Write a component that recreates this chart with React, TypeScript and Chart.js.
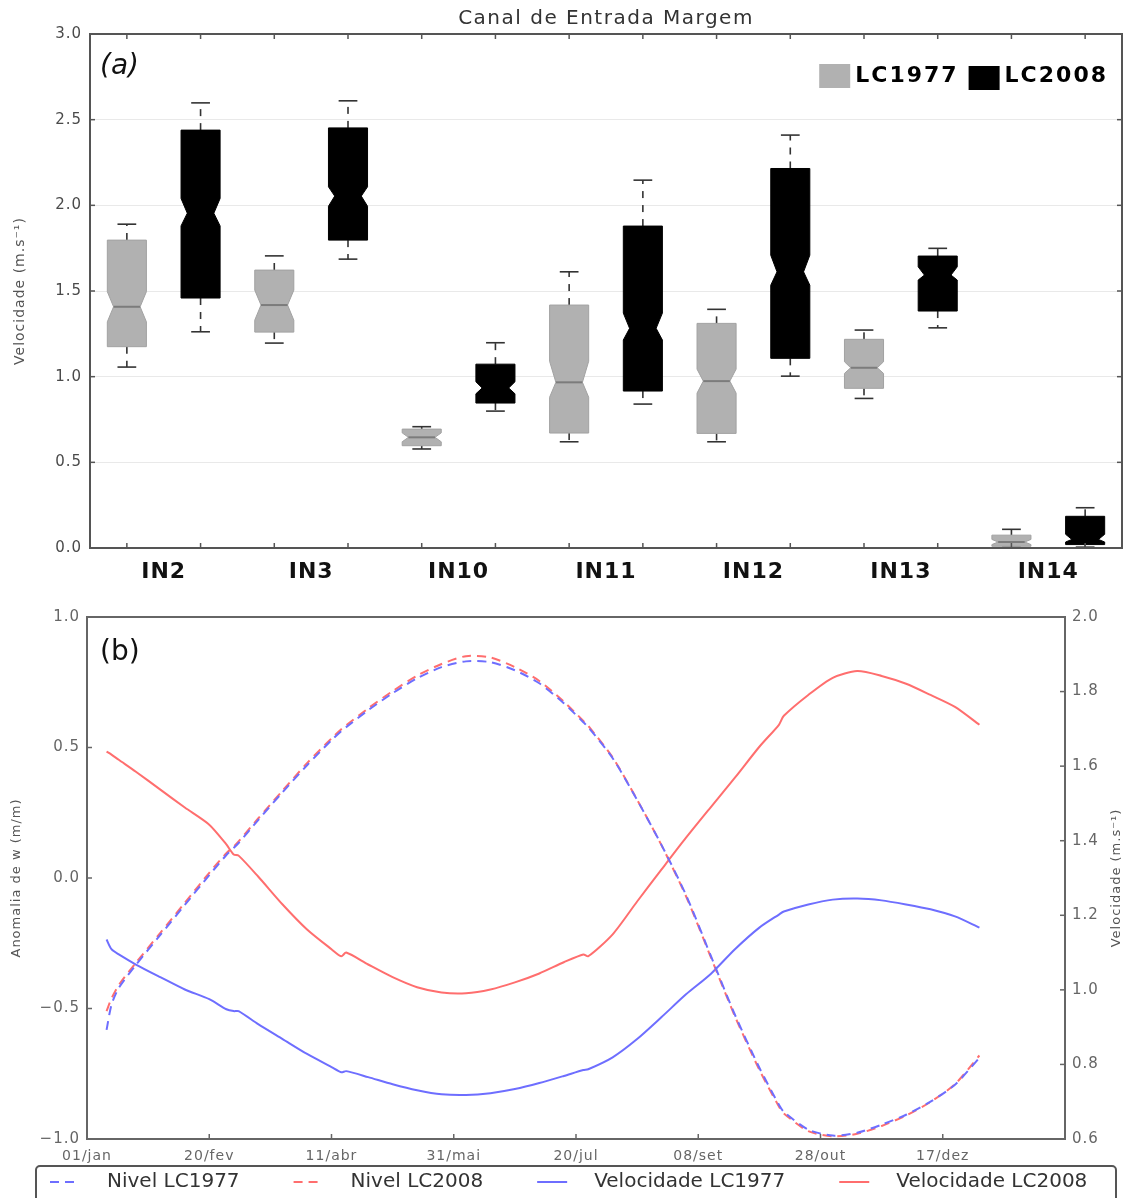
import React, { useEffect, useRef } from 'react';
import { Chart, registerables } from 'chart.js';

Chart.register(...registerables);

const FONT = "'DejaVu Sans', sans-serif";
const TITLE = 'Canal de Entrada Margem';

// ---------- Panel (a): notched box plots of velocity per station ----------
const stations = ['IN2', 'IN3', 'IN10', 'IN11', 'IN12', 'IN13', 'IN14'];
const seriesNames = ['LC1977', 'LC2008'];

const lc1977WhiskerLow = [1.056, 1.196, 0.578, 0.62, 0.62, 0.873, 0.005];
const lc1977Q1 = [1.175, 1.26, 0.597, 0.671, 0.669, 0.932, 0.01];
const lc1977NotchLow = [1.32, 1.33, 0.62, 0.88, 0.904, 1.019, 0.02];
const lc1977Median = [1.408, 1.418, 0.646, 0.967, 0.974, 1.052, 0.035];
const lc1977NotchHigh = [1.496, 1.505, 0.672, 1.09, 1.044, 1.087, 0.05];
const lc1977Q3 = [1.797, 1.622, 0.694, 1.418, 1.311, 1.218, 0.075];
const lc1977WhiskerHigh = [1.89, 1.705, 0.708, 1.612, 1.393, 1.272, 0.109];

const lc2008WhiskerLow = [1.262, 1.686, 0.799, 0.84, 1.003, 1.285, 0.005];
const lc2008Q1 = [1.459, 1.797, 0.846, 0.916, 1.107, 1.383, 0.02];
const lc2008NotchLow = [1.88, 1.995, 0.9, 1.214, 1.534, 1.564, 0.035];
const lc2008Median = [1.954, 2.054, 0.934, 1.282, 1.612, 1.593, 0.05];
const lc2008NotchHigh = [2.04, 2.108, 0.97, 1.371, 1.709, 1.641, 0.08];
const lc2008Q3 = [2.439, 2.452, 1.073, 1.879, 2.215, 1.704, 0.185];
const lc2008WhiskerHigh = [2.598, 2.61, 1.198, 2.147, 2.41, 1.749, 0.235];

const boxStats = [
  { wl: lc1977WhiskerLow, q1: lc1977Q1, nl: lc1977NotchLow, med: lc1977Median, nh: lc1977NotchHigh, q3: lc1977Q3, wh: lc1977WhiskerHigh },
  { wl: lc2008WhiskerLow, q1: lc2008Q1, nl: lc2008NotchLow, med: lc2008Median, nh: lc2008NotchHigh, q3: lc2008Q3, wh: lc2008WhiskerHigh },
];
const boxFill = ['#b1b1b1', '#000000'];
const boxEdge = ['#a2a2a2', '#000000'];
const boxMedian = ['#7c7c7c', '#000000'];

// ---------- Panel (b): daily level anomaly and velocity ----------
const dayMarks = ['01/jan', '20/fev', '11/abr', '31/mai', '20/jul', '08/set', '28/out', '17/dez'];
const days = [8, 10, 13, 20, 30, 40, 50, 57, 60, 62, 70, 80, 90, 100, 104, 106, 115, 125, 135, 145, 155, 165, 175, 185, 195, 203, 205, 215, 225, 235, 245, 255, 265, 275, 283, 285, 295, 305, 315, 325, 335, 345, 355, 365];
const nivelLC1977 = [-0.582, -0.486, -0.421, -0.333, -0.218, -0.103, 0.011, 0.088, 0.115, 0.134, 0.222, 0.329, 0.432, 0.528, 0.563, 0.578, 0.643, 0.708, 0.765, 0.808, 0.83, 0.827, 0.796, 0.746, 0.67, 0.597, 0.578, 0.459, 0.299, 0.126, -0.065, -0.295, -0.524, -0.727, -0.869, -0.896, -0.964, -0.987, -0.976, -0.945, -0.907, -0.857, -0.792, -0.689];
const nivelLC2008 = [-0.51, -0.462, -0.41, -0.325, -0.21, -0.095, 0.02, 0.095, 0.12, 0.14, 0.228, 0.335, 0.44, 0.535, 0.57, 0.585, 0.65, 0.716, 0.775, 0.82, 0.85, 0.845, 0.808, 0.755, 0.676, 0.602, 0.583, 0.462, 0.3, 0.125, -0.07, -0.3, -0.53, -0.735, -0.876, -0.902, -0.97, -0.99, -0.98, -0.95, -0.91, -0.858, -0.79, -0.68];
const velLC1977 = [1.135, 1.109, 1.095, 1.068, 1.034, 1.001, 0.975, 0.948, 0.943, 0.943, 0.908, 0.868, 0.828, 0.793, 0.779, 0.782, 0.766, 0.747, 0.731, 0.72, 0.718, 0.723, 0.734, 0.75, 0.769, 0.785, 0.787, 0.819, 0.868, 0.927, 0.988, 1.042, 1.109, 1.167, 1.202, 1.21, 1.229, 1.242, 1.245, 1.24, 1.229, 1.216, 1.197, 1.167];
const velLC2008 = [1.639, 1.631, 1.617, 1.585, 1.537, 1.489, 1.443, 1.39, 1.363, 1.36, 1.304, 1.229, 1.162, 1.109, 1.09, 1.1, 1.068, 1.034, 1.007, 0.993, 0.991, 1.001, 1.02, 1.044, 1.074, 1.095, 1.09, 1.149, 1.237, 1.323, 1.408, 1.489, 1.569, 1.652, 1.711, 1.735, 1.791, 1.837, 1.855, 1.842, 1.821, 1.791, 1.759, 1.711];

const BLUE = '#6e6eff';
const RED = '#ff6e6e';

const toPoints = (vals: number[]) => days.map((d, i) => ({ x: d, y: vals[i] }));
const fmt = (v: any) => Number(v).toFixed(1).replace('-', '\u2212');

function seg(ctx: CanvasRenderingContext2D, x1: number, y1: number, x2: number, y2: number) {
  ctx.beginPath();
  ctx.moveTo(x1, y1);
  ctx.lineTo(x2, y2);
  ctx.stroke();
}

// Notched boxes, whiskers, frame, inner ticks, title and legend for panel (a)
const boxPlotPlugin = {
  id: 'notchedBoxes',
  beforeDraw(chart: any) {
    chart.ctx.letterSpacing = '1px';
  },
  afterDatasetsDraw(chart: any) {
    const { ctx, chartArea: ca, scales } = chart;
    const y = scales.y;
    const yP = (v: number) => y.getPixelForValue(v);
    ctx.save();
    chart.data.datasets.forEach((_: any, di: number) => {
      const meta = chart.getDatasetMeta(di);
      const s = boxStats[di];
      meta.data.forEach((bar: any, i: number) => {
        const { x, width } = bar.getProps(['x', 'width'], true);
        const L = x - width / 2;
        const R = x + width / 2;
        const ind = width * 0.16;
        // whiskers
        ctx.strokeStyle = '#333';
        ctx.lineWidth = 1.6;
        ctx.setLineDash([7, 7]);
        seg(ctx, x, yP(s.q3[i]), x, yP(s.wh[i]));
        seg(ctx, x, yP(s.q1[i]), x, yP(s.wl[i]));
        ctx.setLineDash([]);
        const cap = width * 0.24;
        seg(ctx, x - cap, yP(s.wh[i]), x + cap, yP(s.wh[i]));
        seg(ctx, x - cap, yP(s.wl[i]), x + cap, yP(s.wl[i]));
        // notched box
        ctx.beginPath();
        ctx.moveTo(L, yP(s.q1[i]));
        ctx.lineTo(L, yP(s.nl[i]));
        ctx.lineTo(L + ind, yP(s.med[i]));
        ctx.lineTo(L, yP(s.nh[i]));
        ctx.lineTo(L, yP(s.q3[i]));
        ctx.lineTo(R, yP(s.q3[i]));
        ctx.lineTo(R, yP(s.nh[i]));
        ctx.lineTo(R - ind, yP(s.med[i]));
        ctx.lineTo(R, yP(s.nl[i]));
        ctx.lineTo(R, yP(s.q1[i]));
        ctx.closePath();
        ctx.fillStyle = boxFill[di];
        ctx.fill();
        ctx.strokeStyle = boxEdge[di];
        ctx.lineWidth = 1;
        ctx.stroke();
        ctx.strokeStyle = boxMedian[di];
        ctx.lineWidth = 2;
        seg(ctx, L + ind, yP(s.med[i]), R - ind, yP(s.med[i]));
      });
    });

    // inner ticks
    ctx.strokeStyle = '#555';
    ctx.lineWidth = 1.5;
    y.ticks.forEach((t: any) => {
      const py = yP(t.value);
      seg(ctx, ca.left, py, ca.left + 5, py);
      seg(ctx, ca.right - 5, py, ca.right, py);
    });
    chart.data.datasets.forEach((_: any, di: number) => {
      chart.getDatasetMeta(di).data.forEach((bar: any) => {
        seg(ctx, bar.x, ca.bottom, bar.x, ca.bottom - 5);
        seg(ctx, bar.x, ca.top, bar.x, ca.top + 5);
      });
    });

    // frame
    ctx.strokeStyle = '#555';
    ctx.lineWidth = 2;
    ctx.strokeRect(ca.left, ca.top, ca.right - ca.left, ca.bottom - ca.top);

    // title over the plot area
    ctx.fillStyle = '#333';
    ctx.font = `20px ${FONT}`;
    ctx.letterSpacing = '1.5px';
    ctx.textAlign = 'center';
    ctx.textBaseline = 'middle';
    ctx.fillText(TITLE, (ca.left + ca.right) / 2, ca.top - 15);

    // panel tag
    ctx.fillStyle = '#111';
    ctx.font = `oblique 28px ${FONT}`;
    ctx.letterSpacing = '0px';
    ctx.textAlign = 'left';
    ctx.fillText('(a)', ca.left + 10, ca.top + 33);

    // legend
    ctx.font = `bold 22px ${FONT}`;
    ctx.letterSpacing = '2px';
    const sq = 31;
    const gapIn = 5;
    const gapOut = 10;
    const widths = seriesNames.map((n) => ctx.measureText(n).width);
    const total = widths.reduce((a, w) => a + sq + gapIn + w, 0) + gapOut;
    let lx = ca.right - 14 - total;
    const ly = ca.top + 42;
    seriesNames.forEach((n, k) => {
      ctx.fillStyle = boxFill[k];
      ctx.fillRect(lx, ly - 12 + k * 2, sq, 24);
      ctx.fillStyle = '#000';
      ctx.fillText(n, lx + sq + gapIn, ly);
      lx += sq + gapIn + widths[k] + gapOut;
    });
    ctx.restore();
  },
};

// Frame, inner ticks, legend and right axis title for panel (b)
const linePanelPlugin = {
  id: 'linePanel',
  beforeDraw(chart: any) {
    chart.ctx.letterSpacing = '1px';
  },
  afterDraw(chart: any) {
    const { ctx, chartArea: ca, scales } = chart;
    ctx.save();
    ctx.strokeStyle = '#666';
    ctx.lineWidth = 1.5;
    scales.x.ticks.forEach((t: any) => {
      const px = scales.x.getPixelForValue(t.value);
      if (px > ca.left + 1 && px < ca.right - 1) seg(ctx, px, ca.bottom, px, ca.bottom - 5);
    });
    scales.y.ticks.forEach((t: any) => {
      const py = scales.y.getPixelForValue(t.value);
      seg(ctx, ca.left, py, ca.left + 5, py);
    });
    scales.y1.ticks.forEach((t: any) => {
      const py = scales.y1.getPixelForValue(t.value);
      seg(ctx, ca.right - 5, py, ca.right, py);
    });
    ctx.strokeStyle = '#666';
    ctx.lineWidth = 2;
    ctx.strokeRect(ca.left, ca.top, ca.right - ca.left, ca.bottom - ca.top);

    // panel tag
    ctx.fillStyle = '#111';
    ctx.font = `28px ${FONT}`;
    ctx.letterSpacing = '0px';
    ctx.textBaseline = 'middle';
    ctx.textAlign = 'left';
    ctx.fillText('(b)', ca.left + 13, ca.top + 36);

    // right axis title, reading bottom to top
    ctx.save();
    ctx.translate(chart.width - 9, (ca.top + ca.bottom) / 2);
    ctx.rotate(-Math.PI / 2);
    ctx.textAlign = 'center';
    ctx.font = `13px ${FONT}`;
    ctx.fillStyle = '#555';
    ctx.letterSpacing = '1px';
    ctx.fillText('Velocidade (m.s\u207B\u00B9)', 0, 0);
    ctx.restore();

    // legend box
    const top = ca.bottom + 27;
    ctx.strokeStyle = '#555';
    ctx.lineWidth = 2;
    ctx.beginPath();
    ctx.roundRect(36, top, 1080, 60, 4);
    ctx.stroke();
    ctx.font = `20px ${FONT}`;
    ctx.letterSpacing = '0px';
    ctx.textBaseline = 'middle';
    const ty = top + 16;
    let lx = 50;
    chart.data.datasets.forEach((ds: any) => {
      ctx.strokeStyle = ds.borderColor;
      ctx.lineWidth = 2;
      ctx.setLineDash(ds.borderDash || []);
      seg(ctx, lx, ty, lx + 30, ty);
      ctx.setLineDash([]);
      ctx.fillStyle = '#333';
      ctx.fillText(ds.label, lx + 57, ty);
      lx += 57 + ctx.measureText(ds.label).width + 54;
    });
    ctx.restore();
  },
};

export default function App() {
  const refA = useRef<HTMLCanvasElement>(null);
  const refB = useRef<HTMLCanvasElement>(null);

  useEffect(() => {
    const chartA = new Chart(refA.current as HTMLCanvasElement, {
      type: 'bar',
      data: {
        labels: stations,
        datasets: seriesNames.map((name, k) => ({
          label: name,
          data: boxStats[k].q1.map((q, i) => [q, boxStats[k].q3[i]]),
          backgroundColor: 'rgba(0,0,0,0)',
          borderWidth: 0,
          categoryPercentage: 1,
          barPercentage: 0.53,
        })),
      },
      options: {
        responsive: false,
        devicePixelRatio: 1,
        animation: false,
        layout: { padding: { left: 0, right: 4, top: 34, bottom: 0 } },
        plugins: {
          legend: { display: false },
          tooltip: { enabled: false },
          title: { display: false },
        },
        scales: {
          x: {
            type: 'category',
            grid: { display: false },
            border: { display: false },
            ticks: { color: '#111', font: { family: FONT, size: 22, weight: 'bold' }, padding: 3 },
            afterFit: (s: any) => { s.height = 50; },
          },
          y: {
            min: 0,
            max: 3,
            ticks: { stepSize: 0.5, color: '#4a4a4a', font: { family: FONT, size: 15 }, padding: 8, callback: fmt },
            grid: { color: '#e9e9e9', drawTicks: false },
            border: { display: false },
            title: { display: true, text: 'Velocidade (m.s\u207B\u00B9)', color: '#555', font: { family: FONT, size: 14 }, padding: { top: 12, bottom: 0 } },
            afterFit: (s: any) => { s.width = 90; },
          },
        },
      } as any,
      plugins: [boxPlotPlugin],
    });

    const chartB = new Chart(refB.current as HTMLCanvasElement, {
      type: 'line',
      data: {
        datasets: [
          { label: 'Nivel LC1977', data: toPoints(nivelLC1977), yAxisID: 'y', borderColor: BLUE, borderDash: [9, 6] },
          { label: 'Nivel LC2008', data: toPoints(nivelLC2008), yAxisID: 'y', borderColor: RED, borderDash: [9, 6] },
          { label: 'Velocidade LC1977', data: toPoints(velLC1977), yAxisID: 'y1', borderColor: BLUE },
          { label: 'Velocidade LC2008', data: toPoints(velLC2008), yAxisID: 'y1', borderColor: RED },
        ].map((d) => ({ ...d, borderWidth: 2, pointRadius: 0, tension: 0.25, fill: false })),
      },
      options: {
        responsive: false,
        devicePixelRatio: 1,
        animation: false,
        layout: { padding: { left: 0, right: 0, top: 19, bottom: 0 } },
        plugins: { legend: { display: false }, tooltip: { enabled: false } },
        scales: {
          x: {
            type: 'linear',
            min: 0,
            max: 400,
            grid: { display: false },
            border: { display: false },
            ticks: {
              stepSize: 50,
              autoSkip: false,
              maxRotation: 0,
              color: '#666',
              font: { family: FONT, size: 14 },
              padding: 1,
              callback: (v: any) => {
                const n = Number(v);
                const i = Math.round(n / 50);
                return n % 50 === 0 && i < dayMarks.length ? dayMarks[i] : '';
              },
            },
            afterFit: (s: any) => { s.height = 59; },
          },
          y: {
            position: 'left',
            min: -1,
            max: 1,
            grid: { display: false, drawTicks: false },
            border: { display: false },
            ticks: { stepSize: 0.5, color: '#666', font: { family: FONT, size: 15 }, padding: 7, callback: fmt },
            title: { display: true, text: 'Anomalia de w (m/m)', color: '#555', font: { family: FONT, size: 13 }, padding: { top: 9, bottom: 0 } },
            afterFit: (s: any) => { s.width = 87; },
          },
          y1: {
            position: 'right',
            min: 0.6,
            max: 2.0,
            grid: { display: false, drawTicks: false },
            border: { display: false },
            ticks: { stepSize: 0.2, color: '#666', font: { family: FONT, size: 15 }, padding: 7, callback: fmt },
            afterFit: (s: any) => { s.width = 61; },
          },
        },
      } as any,
      plugins: [linePanelPlugin],
    });

    return () => {
      chartA.destroy();
      chartB.destroy();
    };
  }, []);

  return (
    <div style={{ position: 'fixed', left: 0, top: 0, width: 1126, height: 1198, background: '#fff', overflow: 'hidden' }}>
      <canvas ref={refA} width={1126} height={598} style={{ position: 'absolute', left: 0, top: 0 }} />
      <canvas ref={refB} width={1126} height={600} style={{ position: 'absolute', left: 0, top: 598 }} />
    </div>
  );
}
